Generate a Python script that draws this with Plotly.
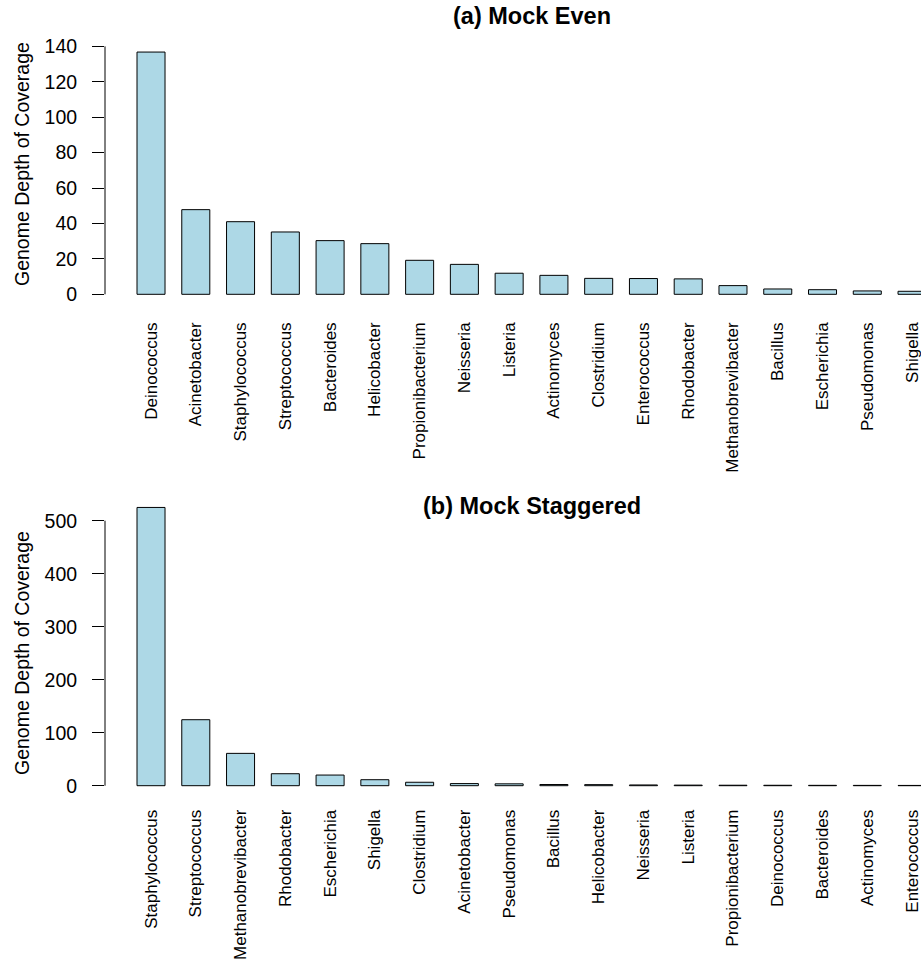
import plotly.graph_objects as go

# Genome depth of coverage per genus, two mock communities
even_genera = ["Deinococcus", "Acinetobacter", "Staphylococcus", "Streptococcus",
               "Bacteroides", "Helicobacter", "Propionibacterium", "Neisseria",
               "Listeria", "Actinomyces", "Clostridium", "Enterococcus",
               "Rhodobacter", "Methanobrevibacter", "Bacillus", "Escherichia",
               "Pseudomonas", "Shigella"]
even_depth = [136.8, 47.8, 41.0, 35.2, 30.3, 28.6, 19.2, 16.9, 11.9, 10.7,
              9.0, 8.9, 8.7, 4.9, 3.0, 2.6, 1.9, 1.7]

stag_genera = ["Staphylococcus", "Streptococcus", "Methanobrevibacter", "Rhodobacter",
               "Escherichia", "Shigella", "Clostridium", "Acinetobacter",
               "Pseudomonas", "Bacillus", "Helicobacter", "Neisseria", "Listeria",
               "Propionibacterium", "Deinococcus", "Bacteroides", "Actinomyces",
               "Enterococcus"]
stag_depth = [525.0, 124.5, 61.0, 22.6, 20.1, 11.3, 6.5, 4.0, 3.5, 2.2, 2.0,
              1.4, 1.1, 0.9, 0.8, 0.7, 0.6, 0.5]

even_ticks = [0, 20, 40, 60, 80, 100, 120, 140]
stag_ticks = [0, 100, 200, 300, 400, 500]

W, H = 921, 963
FONT = "Liberation Sans, Arial, Helvetica, sans-serif"
FILL = "#ADD8E6"


def py(px):
    """Pixel row -> paper y."""
    return 1 - px / H


def px_x(px):
    return px / W


fig = go.Figure()

fig.add_trace(go.Bar(x=even_genera, y=even_depth, xaxis="x", yaxis="y",
                     marker=dict(color=FILL, line=dict(color="black", width=1)),
                     showlegend=False))
fig.add_trace(go.Bar(x=stag_genera, y=stag_depth, xaxis="x2", yaxis="y2",
                     marker=dict(color=FILL, line=dict(color="black", width=1)),
                     showlegend=False))

x_left = 105
x_dom = [px_x(x_left), 1.0]
x_rng = [-1.028, 17.2]

xcommon = dict(type="category", range=x_rng, domain=x_dom, showline=False,
               showgrid=False, zeroline=False, ticks="", tickangle=-90,
               automargin=False,
               tickfont=dict(family=FONT, size=17, color="black"))
ycommon = dict(showline=False, showgrid=False, zeroline=False, ticks="outside",
               ticklen=12, tickwidth=1, tickcolor="black", ticklabelstandoff=11,
               automargin=False, tickfont=dict(family=FONT, size=19.5, color="black"))

fig.update_layout(
    width=W, height=H,
    margin=dict(l=0, r=0, t=0, b=0),
    paper_bgcolor="white", plot_bgcolor="white",
    bargap=0.374,
    xaxis=dict(**xcommon, anchor="y", ticklabelstandoff=14),
    yaxis=dict(**ycommon, anchor="x", domain=[py(304), py(42)],
               range=[-5.48, 142.48], tickvals=even_ticks),
    xaxis2=dict(**xcommon, anchor="y2", ticklabelstandoff=9),
    yaxis2=dict(**ycommon, anchor="x2", domain=[py(796.3), py(499.5)],
                range=[-20, 540], tickvals=stag_ticks),
)

# y axis lines spanning first to last tick
fig.add_shape(type="line", xref="paper", yref="y", x0=x_dom[0], x1=x_dom[0],
              y0=even_ticks[0], y1=even_ticks[-1], line=dict(color="black", width=1))
fig.add_shape(type="line", xref="paper", yref="y2", x0=x_dom[0], x1=x_dom[0],
              y0=stag_ticks[0], y1=stag_ticks[-1], line=dict(color="black", width=1))

titles = [("(a) Mock Even", 16), ("(b) Mock Staggered", 506)]
for text, ypx in titles:
    fig.add_annotation(text=f"<b>{text}</b>", xref="paper", yref="paper",
                       x=px_x(532), y=py(ypx), xanchor="center", yanchor="middle",
                       showarrow=False, font=dict(family=FONT, size=23.5, color="black"))

for ypx in (164, 653):
    fig.add_annotation(text="Genome Depth of Coverage", xref="paper", yref="paper",
                       x=px_x(22), y=py(ypx), xanchor="center", yanchor="middle",
                       textangle=-90, showarrow=False,
                       font=dict(family=FONT, size=19.5, color="black"))

fig.write_html("out.html")
